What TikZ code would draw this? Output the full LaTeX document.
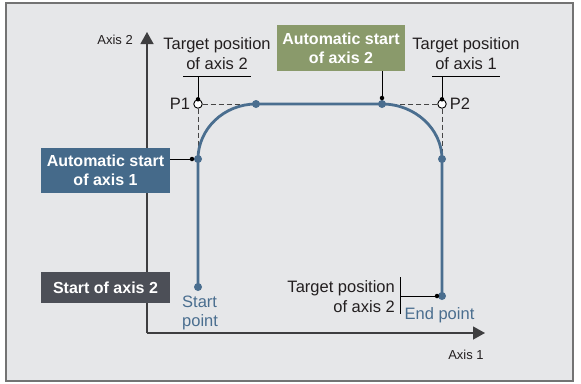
\documentclass[tikz,border=0pt]{standalone}
\usepackage{fontspec}
\setmainfont{Liberation Sans}
\usetikzlibrary{positioning,arrows.meta}
\definecolor{pathblue}{HTML}{4A6E8F}
\definecolor{boxblue}{HTML}{456A8A}
\definecolor{boxgreen}{HTML}{8A9A6B}
\definecolor{boxdark}{HTML}{4C4F57}
\definecolor{panel}{HTML}{E6E7E9}
\definecolor{framegray}{HTML}{737373}
\definecolor{axisgray}{HTML}{3E3E40}
\definecolor{txt}{HTML}{231F20}
\definecolor{dashgray}{HTML}{454545}

\begin{document}
\begin{tikzpicture}[x=1pt,y=-1pt,
    lbl/.style={font=\fontsize{16.5}{19.5}\selectfont, align=center, inner sep=0pt, text=txt},
    small/.style={font=\fontsize{13}{15}\selectfont, inner sep=0pt, text=txt},
    tag/.style={font=\bfseries\fontsize{16}{19}\selectfont, align=center, text=white, inner sep=0pt},
    ax/.style={draw=axisgray, line width=1.3pt, -{Triangle[width=13pt,length=12pt]}},
    pt/.style={circle, fill=pathblue, inner sep=0pt, minimum size=8pt},
    tip/.style={circle, fill=black, inner sep=0pt, minimum size=4.5pt},
    ring/.style={circle, draw=black, fill=white, inner sep=0pt, minimum size=8.5pt, line width=0.9pt},
    lead/.style={draw=black, line width=0.9pt},
    guide/.style={draw=dashgray, line width=0.9pt, dash pattern=on 5pt off 3pt}]
    \useasboundingbox (0,0) rectangle (581,383);
    \draw[fill=panel, draw=framegray, line width=1.2pt] (6,3) rectangle (573,381);
    % axes
    \coordinate (o) at (147,333);
    \draw[ax] (o) -- (147,32);
    \draw[ax] (o) -- (485,333);
    \node[small, anchor=east] (ax2) at (133,40) {Axis 2};
    \node[small] (ax1) at (466,355) {Axis 1};
    % path points
    \coordinate (s) at (198,287);
    \coordinate (a1) at (198,159);
    \coordinate (b1) at (256,104);
    \coordinate (a2) at (382,104);
    \coordinate (a3) at (442,159);
    \coordinate (e) at (442,296);
    \node[ring] (p1) at (198,104) {};
    \node[ring] (p2) at (442,104) {};
    \draw[guide] (p1.east) -- (b1);
    \draw[guide] (p1.south) -- (a1);
    \draw[guide] (p2.west) -- (a2);
    \draw[guide] (p2.south) -- (a3);
    \draw[pathblue, line width=2.8pt] (s) -- (a1) .. controls (198,129) and (224,104) .. (b1)
        -- (a2) .. controls (415,104) and (442,129) .. (a3) -- (e);
    \foreach \q in {s,a1,b1,a2,a3,e} \node[pt] at (\q) {};
    \node[lbl, left=3pt of p1, inner sep=0pt] {P1};
    \node[lbl, right=3pt of p2, inner sep=0pt] {P2};
    % target labels on top
    \node[lbl] (tp2) at (217,53.5) {Target position\\of axis 2};
    \node[lbl] (tp1) at (466,53.5) {Target position\\of axis 1};
    \draw[lead] (183,76) -- (251,76);
    \draw[lead] (432,76) -- (500,76);
    \coordinate (u2) at (198,76);
    \coordinate (u1) at (442,76);
    \draw[lead] (u2) -- (p1.north);
    \draw[lead] (u1) -- (p2.north);
    \node[tip] at (p1.north) {};
    \node[tip] at (p2.north) {};
    % boxes
    \node[tag, fill=boxgreen, minimum width=128pt, minimum height=46pt] (box2) at (341,48) {Automatic start\\of axis 2};
    \node[tag, fill=boxblue, minimum width=129pt, minimum height=45pt] (box1) at (105.5,170.5) {Automatic start\\of axis 1};
    \node[tag, fill=boxdark, minimum width=129pt, minimum height=31pt] (box0) at (105.5,287.5) {Start of axis 2};
    \node[tip] (t1) at (192,159) {};
    \node[tip] (t2) at (382,98) {};
    \draw[lead] (box1.east |- t1) -- (t1);
    \draw[lead] (box2.south -| t2) -- (t2);
    % end of the path
    \node[lbl, anchor=east, align=right] (tpe) at (395,296.5) {Target position\\of axis 2};
    \coordinate (bar) at (400,296);
    \draw[lead] (400,277) -- (400,314);
    \node[tip] (t3) at (437,296) {};
    \draw[lead] (bar) -- (t3);
    \node[lbl, text=pathblue, anchor=west, align=left] (sp) at (182,313) {Start\\point};
    \node[lbl, text=pathblue] (ep) at (439.5,315) {End point};
\end{tikzpicture}
\end{document}
